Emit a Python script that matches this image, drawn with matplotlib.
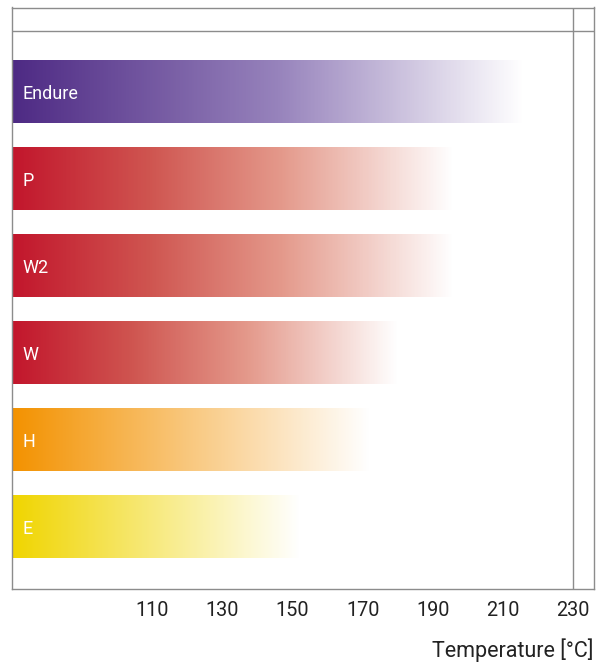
import numpy as np
import matplotlib
matplotlib.use("Agg")
import matplotlib.pyplot as plt
from matplotlib.colors import LinearSegmentedColormap

# data
grades = ["Endure", "P", "W2", "W", "H", "E"]
max_temp = [216, 196, 196, 180, 172, 152]
ticks = [110, 130, 150, 170, 190, 210, 230]

# gradient stops for each bar (left colour -> white)
stops = [
    [(0.0, "#4E2A84"), (0.52, "#9783BC"), (1.0, "#FFFFFF")],
    [(0.0, "#C2162C"), (0.31, "#CF5550"), (0.61, "#E4998B"), (1.0, "#FFFFFF")],
    [(0.0, "#C2162C"), (0.31, "#CF5550"), (0.61, "#E4998B"), (1.0, "#FFFFFF")],
    [(0.0, "#C2162C"), (0.31, "#CF5550"), (0.61, "#E4998B"), (1.0, "#FFFFFF")],
    [(0.0, "#F39200"), (1.0, "#FFFFFF")],
    [(0.0, "#F0D500"), (1.0, "#FFFFFF")],
]

plt.rcParams['font.family'] = ['Roboto', 'DejaVu Sans']

fig = plt.figure(figsize=(6.08, 6.62), dpi=100)
ax = fig.add_axes([12/608, 1-589/662, 582/608, 581.5/662])

xmin = 70
xmax = 236
half = 0.362

for i in range(len(grades)):
    cmap = LinearSegmentedColormap.from_list("g%d" % i, stops[i])
    grad = np.linspace(0, 1, 400).reshape(1, -1)
    ax.imshow(grad, cmap=cmap, aspect='auto', interpolation='bilinear',
              extent=[xmin, max_temp[i], i + half, i - half], zorder=2)
    ax.text(xmin + 3.1, i + 0.02, grades[i], color='white', fontsize=13,
            va='center', ha='left', zorder=3)

ax.set_xlim(xmin, xmax)
ax.set_ylim(5.713, -0.971)

# extra frame lines
ax.axhline(-0.701, color='#8c8c8c', lw=1.0, zorder=1)
ax.axvline(230, color='#8c8c8c', lw=1.0, zorder=1)
for s in ax.spines.values():
    s.set_color('#8c8c8c')
    s.set_linewidth(1.0)

ax.set_yticks([])
ax.set_xticks(ticks)
ax.set_xticklabels([str(t) for t in ticks], fontsize=14.3, color='#222222')
ax.tick_params(axis='x', length=0, pad=9)

fig.text(594/608, 1-650/662, "Temperature [°C]", ha='right', va='center',
         fontsize=15.5, color='#222222')

fig.savefig("out.png", dpi=100)
